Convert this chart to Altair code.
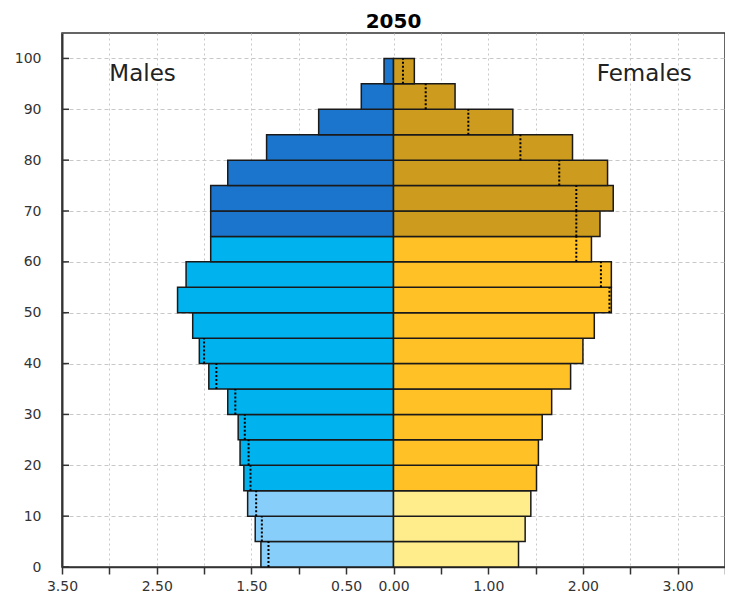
import altair as alt
import pandas as pd

# ---- data ----
age_start = [0, 5, 10, 15, 20, 25, 30, 35, 40, 45, 50, 55, 60, 65, 70, 75, 80, 85, 90, 95]
males = [1.40, 1.46, 1.54, 1.58, 1.62, 1.64, 1.75, 1.95, 2.05, 2.12,
         2.28, 2.19, 1.93, 1.93, 1.93, 1.75, 1.34, 0.79, 0.34, 0.10]
females = [1.32, 1.39, 1.45, 1.51, 1.53, 1.57, 1.67, 1.87, 2.00, 2.12,
           2.30, 2.30, 2.09, 2.18, 2.32, 2.26, 1.89, 1.26, 0.65, 0.22]
group_keys = ["M0", "M1", "M2", "F0", "F1", "F2"]
group_colors = ["#87CEFA", "#00B2EE", "#1C75CC", "#FFEC8B", "#FFC125", "#CD9B1D"]
x_tick_values = [-3.5, -3.0, -2.5, -2.0, -1.5, -1.0, -0.5, 0.0, 0.5, 1.0, 1.5, 2.0, 2.5, 3.0, 3.5]
x_labelled = [-3.5, -2.5, -1.5, -0.5, 0, 1, 2, 3]
y_tick_values = [0, 10, 20, 30, 40, 50, 60, 70, 80, 90, 100]
male_label = {"label": "Males", "x": -3.0, "y": 96.9}
female_label = {"label": "Females", "x": 3.15, "y": 96.9}
title_text = "2050"

FONT = "DejaVu Sans"


def grp(age):
    if age < 15:
        return "0"
    if age < 65:
        return "1"
    return "2"


rows = []
dots = []
for a, m, f in zip(age_start, males, females):
    rows.append({"age": a, "age2": a + 5, "x": -m, "key": "M" + grp(a)})
    rows.append({"age": a, "age2": a + 5, "x": f, "key": "F" + grp(a)})
    # dotted line: the other sex's value, shown inside the larger bar
    if f < m:
        dots.append({"age": a, "age2": a + 5, "x": -f})
    if m < f:
        dots.append({"age": a, "age2": a + 5, "x": m})
bars_df = pd.DataFrame(rows)
dots_df = pd.DataFrame(dots)
ytick_df = pd.DataFrame({"y": y_tick_values})

label_expr = ("indexof([" + ",".join(str(v) for v in x_labelled) +
              "], datum.value) >= 0 ? format(abs(datum.value), '.2f') : ''")

x_scale = alt.Scale(domain=[-3.5, 3.5], nice=False, zero=False)
y_scale = alt.Scale(domain=[0, 105], nice=False, zero=False)

x_axis = alt.Axis(values=x_tick_values, labelExpr=label_expr, title=None,
                  grid=True, gridDash=[2, 3], gridColor="#c8c8c8", gridWidth=1,
                  tickSize=7, tickColor="#333333", tickWidth=1.5,
                  domainColor="#333333", domainWidth=1.5,
                  labelFont=FONT, labelFontSize=14, labelColor="#333333",
                  labelPadding=5, labelOverlap=False, labelFlush=False)
y_axis = alt.Axis(values=y_tick_values, title=None,
                  grid=True, gridDash=[4, 3], gridColor="#c8c8c8", gridWidth=1,
                  tickSize=0, domainColor="#333333", domainWidth=2,
                  labelFont=FONT, labelFontSize=14, labelColor="#333333",
                  labelPadding=21)

bars = alt.Chart(bars_df).mark_bar(stroke="#1a1a1a", strokeWidth=1.5).encode(
    x=alt.X("x:Q", scale=x_scale, axis=x_axis),
    x2=alt.datum(0),
    y=alt.Y("age:Q", scale=y_scale, axis=y_axis),
    y2="age2:Q",
    color=alt.Color("key:N", scale=alt.Scale(domain=group_keys, range=group_colors), legend=None),
)

dotted = alt.Chart(dots_df).mark_rule(color="black", strokeWidth=2, strokeDash=[2, 2]).encode(
    x=alt.X("x:Q", scale=x_scale),
    y=alt.Y("age:Q", scale=y_scale),
    y2="age2:Q",
)


def side_text(d, align):
    return alt.Chart(pd.DataFrame([d])).mark_text(
        font=FONT, fontSize=23, color="#222222", baseline="middle", align=align
    ).encode(
        x=alt.X("x:Q", scale=x_scale),
        y=alt.Y("y:Q", scale=y_scale),
        text="label:N",
    )


yticks = alt.Chart(ytick_df).mark_rule(color="#333333", strokeWidth=1.5).encode(
    x=alt.value(0), x2=alt.value(7),
    y=alt.Y("y:Q", scale=y_scale),
)

chart = alt.layer(bars, dotted, side_text(male_label, "left"),
                  side_text(female_label, "right"), yticks).properties(
    width=663, height=534,
    background="white",
    title=alt.TitleParams(title_text, font=FONT, fontSize=20, fontWeight="bold",
                          color="black", offset=1, anchor="middle"),
    autosize=alt.AutoSizeParams(type="none"),
    padding={"left": 54, "top": 25, "right": 0, "bottom": 26},
).configure_view(stroke="#333333", strokeWidth=1.5)

chart.save("out.html", embed_options={"renderer": "svg", "actions": False})
